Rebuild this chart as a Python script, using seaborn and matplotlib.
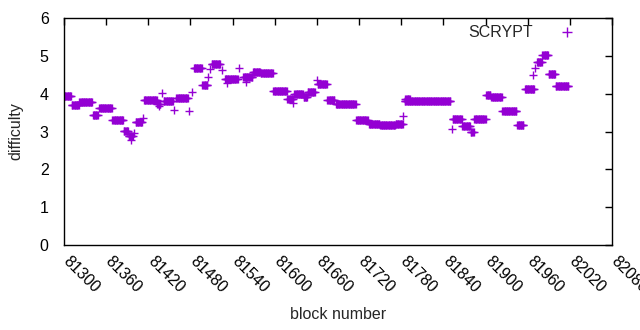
import numpy as np
import pandas as pd
import matplotlib
matplotlib.use("Agg")
import matplotlib.pyplot as plt
import matplotlib.transforms as mtransforms
from matplotlib.lines import Line2D
import seaborn as sns

# runs of blocks that share one difficulty value
run_start = [81301, 81311, 81322, 81341, 81350, 81369, 81385, 81392, 81395, 81399,
             81402, 81413, 81414, 81433, 81435, 81439, 81442, 81456, 81460, 81478,
             81482, 81485, 81497, 81505, 81508, 81510, 81525, 81529, 81532, 81549,
             81555, 81559, 81569, 81580, 81598, 81618, 81626, 81628, 81641, 81647,
             81660, 81661, 81675, 81687, 81716, 81734, 81750, 81772, 81783, 81785,
             81786, 81852, 81853, 81867, 81879, 81884, 81901, 81908, 81924, 81945,
             81956, 81967, 81970, 81973, 81981, 81990, 82000]
run_end = [81310, 81321, 81340, 81348, 81368, 81384, 81391, 81398, 81395, 81399,
           81411, 81413, 81432, 81437, 81435, 81439, 81455, 81456, 81476, 81478,
           81482, 81496, 81504, 81505, 81508, 81522, 81525, 81547, 81532, 81549,
           81568, 81559, 81579, 81597, 81617, 81626, 81626, 81640, 81646, 81657,
           81660, 81674, 81685, 81715, 81732, 81749, 81771, 81782, 81783, 81850,
           81792, 81852, 81866, 81878, 81883, 81900, 81907, 81923, 81944, 81954,
           81969, 81967, 81970, 81980, 81989, 81999, 82018]
run_diff = [3.93, 3.71, 3.77, 3.44, 3.63, 3.30, 3.02, 2.88, 2.78, 2.96,
            3.25, 3.36, 3.84, 3.73, 3.68, 4.01, 3.80, 3.57, 3.88, 3.55,
            4.05, 4.67, 4.22, 4.44, 4.66, 4.78, 4.63, 4.40, 4.27, 4.67,
            4.45, 4.31, 4.57, 4.54, 4.06, 3.86, 3.76, 4.00, 3.90, 4.05,
            4.37, 4.26, 3.82, 3.73, 3.31, 3.20, 3.17, 3.20, 3.42, 3.81,
            3.86, 3.07, 3.34, 3.15, 2.98, 3.33, 3.97, 3.90, 3.53, 3.18,
            4.12, 4.50, 4.68, 4.85, 5.01, 4.53, 4.21]

x_ticks = list(range(81300, 82081, 60))

blocks = np.concatenate([np.arange(s, e + 1) for s, e in zip(run_start, run_end)])
diffs = np.concatenate([np.full(e - s + 1, d) for s, e, d in zip(run_start, run_end, run_diff)])
df = pd.DataFrame({"block": blocks, "difficulty": diffs})

color = "#9400d3"
sns.set_style("white")
plt.rcParams["font.family"] = ["Liberation Sans", "DejaVu Sans"]

fig = plt.figure(figsize=(6.4, 3.3), dpi=100)
ax = fig.add_axes([64 / 640, 1 - 245 / 330, 548 / 640, 227 / 330])

sns.scatterplot(data=df, x="block", y="difficulty", marker="+", s=28,
                color=color, linewidth=1, legend=False, ax=ax)

ax.set_xlim(81300, 82080)
ax.set_ylim(0, 6)
ax.set_xticks(x_ticks)
ax.set_yticks(range(0, 7))
ax.tick_params(direction="in", length=5, width=1, colors="black",
               top=True, right=True, labelsize=11.5)
ax.tick_params(axis="y", pad=11)
ax.tick_params(axis="x", pad=6)
shift = mtransforms.ScaledTranslation(7 / 100, 0, fig.dpi_scale_trans)
for lab in ax.get_xticklabels():
    lab.set_rotation(-45)
    lab.set_ha("left")
    lab.set_va("top")
    lab.set_rotation_mode("anchor")
    lab.set_transform(lab.get_transform() + shift)
for sp in ax.spines.values():
    sp.set_color("black")
    sp.set_linewidth(1)

ax.set_xlabel("block number", fontsize=11.5, labelpad=8)
ax.set_ylabel("difficulty", fontsize=11.5, labelpad=12)

handle = Line2D([], [], marker="+", linestyle="none", color=color,
                markersize=7, markeredgewidth=1)
ax.legend(handles=[handle], labels=["SCRYPT"], loc="upper right",
          bbox_to_anchor=(0.954, 0.968), frameon=False, markerfirst=False,
          borderaxespad=0, borderpad=0, handlelength=2.5, numpoints=1,
          handletextpad=0.9, fontsize=11.5)

fig.savefig("out.png", dpi=100)
